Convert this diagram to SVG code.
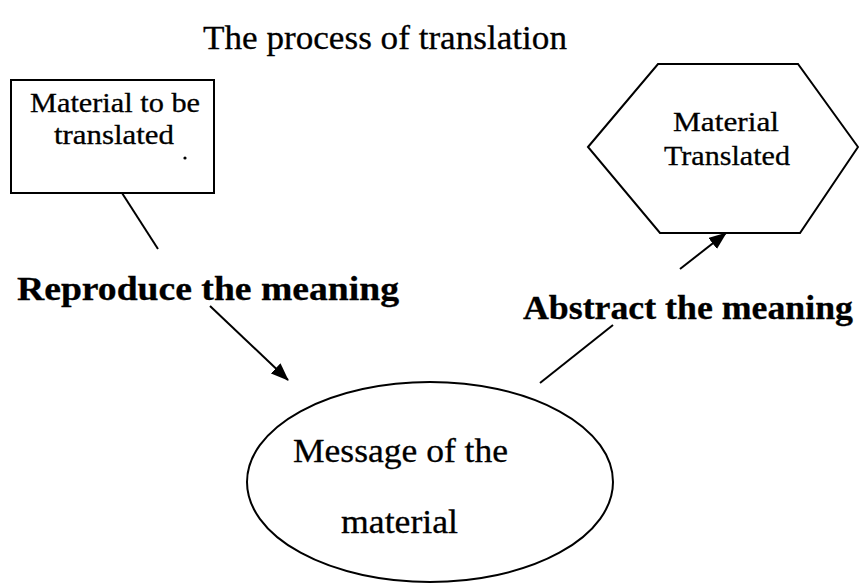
<svg xmlns="http://www.w3.org/2000/svg" width="859" height="583" viewBox="0 0 859 583">
<style>
  text { font-family: "Liberation Serif", "Times New Roman", serif; fill: #000; stroke: #000; stroke-width: 0.3; }
  .bold { font-weight: bold; }
  .shape { fill: #fff; stroke: #000; stroke-width: 2; }
  .conn { stroke: #000; stroke-width: 2; fill: none; }
</style>
<defs>
  <marker id="arrow" viewBox="0 0 18 14" refX="17" refY="7" markerWidth="18" markerHeight="14" markerUnits="userSpaceOnUse" orient="auto">
    <path d="M0,0 L18,7 L0,14 z" fill="#000"/>
  </marker>
</defs>
<rect width="859" height="583" fill="#fff"/>
<text id="title" x="203" y="49" font-size="34" textLength="364" lengthAdjust="spacingAndGlyphs">The process of translation</text>

<g id="source">
  <rect class="shape" x="11" y="80" width="203" height="113"/>
  <text x="30" y="112" font-size="27" textLength="170" lengthAdjust="spacingAndGlyphs">Material to be</text>
  <text x="54" y="144" font-size="27" textLength="120" lengthAdjust="spacingAndGlyphs">translated</text>
  <circle cx="185" cy="158" r="1.6" fill="#000"/>
</g>

<g id="target">
  <polygon class="shape" points="588,147 658,64 798,64 858,147 800,233 660,233"/>
  <text x="673" y="131" font-size="28" textLength="106" lengthAdjust="spacingAndGlyphs">Material</text>
  <text x="664" y="165" font-size="28" textLength="126" lengthAdjust="spacingAndGlyphs">Translated</text>
</g>

<g id="message">
  <ellipse class="shape" cx="430" cy="482" rx="183" ry="100"/>
  <text x="293" y="462" font-size="34" textLength="215" lengthAdjust="spacingAndGlyphs">Message of the</text>
  <text x="341" y="533" font-size="34" textLength="117" lengthAdjust="spacingAndGlyphs">material</text>
</g>

<g id="label-reproduce">
  <text class="bold" x="17" y="300" font-size="34" textLength="382" lengthAdjust="spacingAndGlyphs">Reproduce the meaning</text>
</g>
<g id="label-abstract">
  <text class="bold" x="523" y="319" font-size="34" textLength="330" lengthAdjust="spacingAndGlyphs">Abstract the meaning</text>
</g>

<g id="connectors">
  <line class="conn" x1="122" y1="193" x2="158" y2="249"/>
  <line class="conn" x1="210" y1="306" x2="288" y2="380" marker-end="url(#arrow)"/>
  <line class="conn" x1="540" y1="383" x2="613" y2="325"/>
  <line class="conn" x1="680" y1="269" x2="726" y2="233" marker-end="url(#arrow)"/>
</g>
</svg>
